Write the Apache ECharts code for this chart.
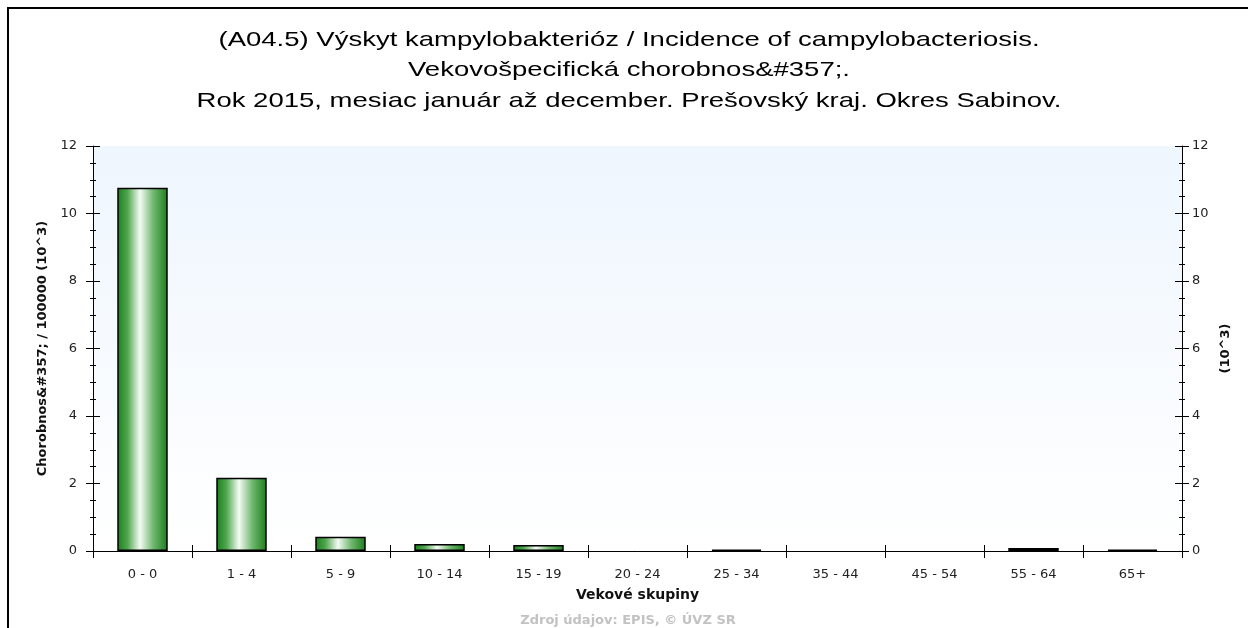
<!DOCTYPE html>
<html>
<head>
<meta charset="utf-8">
<script src="https://cdn.jsdelivr.net/npm/echarts@6/dist/echarts.min.js"></script>
<style>
html,body{margin:0;padding:0;background:#fff;}
#chart{width:1248px;height:628px;}
</style>
</head>
<body>
<div id="chart"></div>
<script>
// vekové skupiny a hodnoty (chorobnosť / 100000, v 10^3)
var categories = ['0 - 0', '1 - 4', '5 - 9', '10 - 14', '15 - 19', '20 - 24', '25 - 34', '35 - 44', '45 - 54', '55 - 64', '65+'];
var values = [10.76, 2.17, 0.42, 0.21, 0.18, 0, 0.04, 0, 0, 0.09, 0.04];
var yTicks = [0, 12, 2];

var titleLines = [
    '(A04.5) Výskyt kampylobakterióz / Incidence of campylobacteriosis.',
    'Vekovošpecifická chorobnos&#357;.',
    'Rok 2015, mesiac január až december. Prešovský kraj. Okres Sabinov.'
];

var myChart = echarts.init(document.getElementById('chart'));

var font = 'DejaVu Sans, Verdana, sans-serif';
var lineBlack = { show: true, lineStyle: { color: '#000', width: 1 } };
var nameStyle = { fontWeight: 'bold', fontSize: 13, color: '#111', fontFamily: font };

function yAxisCfg(pos, inside, withLabels) {
    return {
        type: 'value',
        position: pos,
        min: yTicks[0],
        max: yTicks[1],
        interval: yTicks[2],
        axisLine: withLabels ? lineBlack : { show: false },
        axisTick: { show: true, inside: inside, length: 7, lineStyle: { color: '#000' } },
        minorTick: { show: true, splitNumber: 4, length: 3, lineStyle: { color: '#000' } },
        splitLine: { show: false },
        axisLabel: { show: withLabels, color: '#222', fontSize: 13, fontFamily: font, margin: pos == 'left' ? 16 : 10 }
    };
}

var yLeft = yAxisCfg('left', false, true);
yLeft.name = 'Chorobnos&#357; / 100000 (10^3)';
yLeft.nameLocation = 'middle';
yLeft.nameRotate = 90;
yLeft.nameGap = 35;
yLeft.nameTextStyle = nameStyle;

var yRight = yAxisCfg('right', false, true);
yRight.name = '(10^3)';
yRight.nameLocation = 'middle';
yRight.nameRotate = 90;
yRight.nameGap = 31;
yRight.nameTextStyle = nameStyle;

// titulok - 3 riadky, roztiahnuté do šírky ako v originale
var titleGraphics = titleLines.map(function (t, i) {
    return {
        type: 'text',
        x: 629,
        y: 40 + i * 30.5,
        scaleX: 1.31,
        silent: true,
        style: {
            text: t,
            fill: '#000',
            font: '21px Liberation Sans, Arial, sans-serif',
            align: 'center',
            verticalAlign: 'middle'
        }
    };
});

var option = {
    backgroundColor: '#fff',
    grid: {
        left: 93, right: 66, top: 146, bottom: 77,
        show: true,
        borderWidth: 0,
        backgroundColor: new echarts.graphic.LinearGradient(0, 0, 0, 1, [
            { offset: 0, color: '#eef6fe' },
            { offset: 1, color: '#ffffff' }
        ])
    },
    xAxis: [{
        type: 'category',
        position: 'bottom',
        data: categories,
        axisLine: lineBlack,
        axisTick: { show: true, interval: 0, length: 6, lineStyle: { color: '#000' } },
        axisLabel: { interval: 0, color: '#222', fontSize: 13, fontFamily: font, margin: 17 },
        name: 'Vekové skupiny',
        nameLocation: 'middle',
        nameGap: 37,
        nameTextStyle: { fontWeight: 'bold', fontSize: 14, color: '#111', fontFamily: font }
    }, {
        type: 'category',
        position: 'bottom',
        data: categories,
        axisLine: { show: false },
        axisTick: { show: true, inside: true, interval: 0, length: 6, lineStyle: { color: '#000' } },
        axisLabel: { show: false }
    }, {
        type: 'category',
        position: 'top',
        data: categories,
        axisLine: lineBlack,
        axisTick: { show: true, inside: true, interval: 0, length: 7, lineStyle: { color: '#000' } },
        axisLabel: { show: false }
    }],
    yAxis: [yLeft, yAxisCfg('left', true, false), yRight, yAxisCfg('right', true, false)],
    series: [{
        type: 'bar',
        xAxisIndex: 0,
        yAxisIndex: 0,
        // nulové hodnoty sa v origináli nekreslia
        data: values.map(function (v) { return v === 0 ? '-' : v; }),
        barWidth: '51%',
        itemStyle: {
            borderColor: '#000',
            borderWidth: 1.5,
            color: new echarts.graphic.LinearGradient(0, 0, 1, 0, [
                { offset: 0, color: '#1b7d1b' },
                { offset: 0.2, color: '#4ea64e' },
                { offset: 0.45, color: '#f4fbf4' },
                { offset: 0.72, color: '#6db66d' },
                { offset: 1, color: '#1b7d1b' }
            ])
        }
    }],
    graphic: titleGraphics.concat([{
        type: 'rect',
        shape: { x: 8, y: 8, width: 1300, height: 700 },
        style: { fill: 'none', stroke: '#000', lineWidth: 2 },
        silent: true
    }, {
        type: 'text',
        x: 628,
        y: 614,
        style: {
            text: 'Zdroj údajov: EPIS, © ÚVZ SR',
            fill: '#c2c2c2',
            font: 'bold 13px DejaVu Sans, Verdana, sans-serif',
            align: 'center',
            verticalAlign: 'top'
        },
        silent: true
    }])
};

myChart.setOption(option);
</script>
</body>
</html>
